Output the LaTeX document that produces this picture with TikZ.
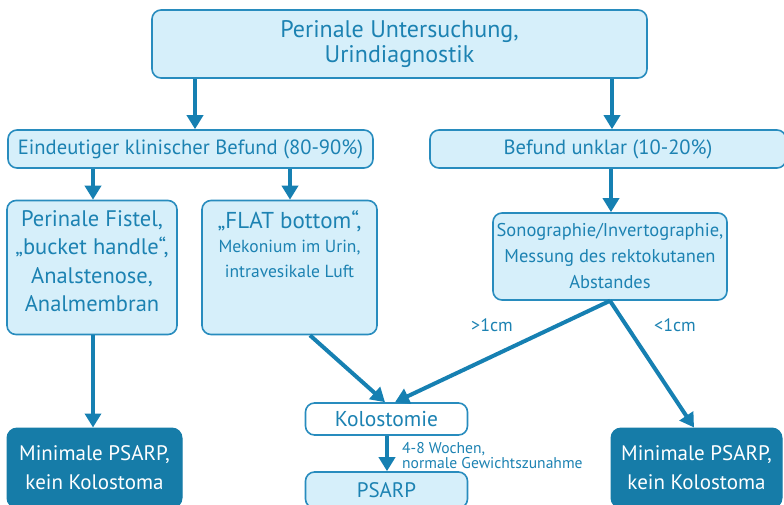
\documentclass[tikz,border=0pt]{standalone}
\usepackage{fontspec}
\setmainfont{PT Sans}
\usetikzlibrary{arrows.meta,calc}
\definecolor{bl}{RGB}{22,128,178}
\definecolor{bord}{RGB}{40,140,190}
\definecolor{lightbl}{RGB}{214,239,250}
\definecolor{txt}{RGB}{28,130,178}
\definecolor{dark}{RGB}{22,124,168}
\begin{document}
\begin{tikzpicture}[x=1pt,y=-1pt,
  box/.style={draw=bord, line width=1.6pt, fill=lightbl, rounded corners=9pt, inner sep=0pt, text=txt, align=center},
  whitebox/.style={box, fill=white},
  darkbox/.style={draw=dark, line width=1pt, fill=dark, rounded corners=10pt, text=white, align=center, inner sep=0pt},
  arr/.style={draw=bl, line width=4pt, -{Triangle[width=16pt,length=14pt]}},
  lbl/.style={text=txt, inner sep=0pt, align=center},
]
\useasboundingbox (0,0) rectangle (784,504);
\clip (0,0) rectangle (784,504);

\node[box, font=\fontsize{24}{25}\selectfont, minimum width=495, minimum height=68] (top) at (399.5,44) {Perinale Untersuchung,\\Urindiagnostik};
\node[box, font=\fontsize{20.6}{24}\selectfont, minimum width=365, minimum height=38] (left) at (190.5,149) {Eindeutiger klinischer Befund (80-90\%)};
\node[box, font=\fontsize{20.6}{24}\selectfont, minimum width=356, minimum height=38] (right) at (608,149) {Befund unklar (10-20\%)};

\node[box, minimum width=170, minimum height=134] (fistel) at (92,267.5) {};
\node[lbl, font=\fontsize{22.5}{28.5}\selectfont] (fistelT) at (92,261) {Perinale Fistel,\\„bucket handle“,\\Analstenose,\\Analmembran};

\node[box, minimum width=175, minimum height=134] (flat) at (289.5,267.5) {};
\node[lbl, anchor=north, font=\fontsize{17.5}{24.5}\selectfont] (flatT) at (289.5,210) {{\fontsize{23}{24.5}\selectfont „FLAT bottom“,}\\Mekonium im Urin,\\intravesikale Luft};

\node[box, minimum width=234, minimum height=87, font=\fontsize{18.5}{26}\selectfont] (sono) at (610,256.5) {Sonographie/Invertographie,\\Messung des rektokutanen\\Abstandes};

\node[whitebox, font=\fontsize{21.5}{22}\selectfont, minimum width=162, minimum height=32] (kol) at (386.5,419) {Kolostomie};
\node[box, minimum width=162, minimum height=36, font=\fontsize{21}{22}\selectfont] (psarp) at (386.5,490) {PSARP};

\node[darkbox, font=\fontsize{21}{29}\selectfont, minimum width=175, minimum height=80] (darkL) at (94.5,468) {Minimale PSARP,\\kein Kolostoma};
\node[darkbox, font=\fontsize{21}{29}\selectfont, minimum width=171, minimum height=80] (darkR) at (696.5,468) {Minimale PSARP,\\kein Kolostoma};

\draw[arr] (195,0 |- top.south) -- (195,0 |- left.north);
\draw[arr] (612,0 |- top.south) -- (612,0 |- right.north);
\draw[arr] (93,0 |- left.south) -- (93,0 |- fistel.north);
\draw[arr] (290,0 |- left.south) -- (290,0 |- flat.north);
\draw[arr] (611,0 |- right.south) -- (611,0 |- sono.north);
\draw[arr] (93,0 |- fistel.south) -- (93,0 |- darkL.north);
\draw[arr] (310,0 |- flat.south) -- (385,0 |- kol.north);
\draw[arr] (610,0 |- sono.south) -- (395,0 |- kol.north);
\draw[arr] (610,0 |- sono.south) -- (694,0 |- darkR.north);
\draw[arr] (387,0 |- kol.south) -- (387,0 |- psarp.north);

\node[lbl, font=\fontsize{18}{18}\selectfont] (gt) at (492,325) {>1cm};
\node[lbl, font=\fontsize{18}{18}\selectfont] (lt) at (675,325) {<1cm};
\node[lbl, anchor=west, align=left, font=\fontsize{15.6}{15}\selectfont] (wochen) at (402,455.5) {4-8 Wochen,\\normale Gewichtszunahme};
\end{tikzpicture}
\end{document}
